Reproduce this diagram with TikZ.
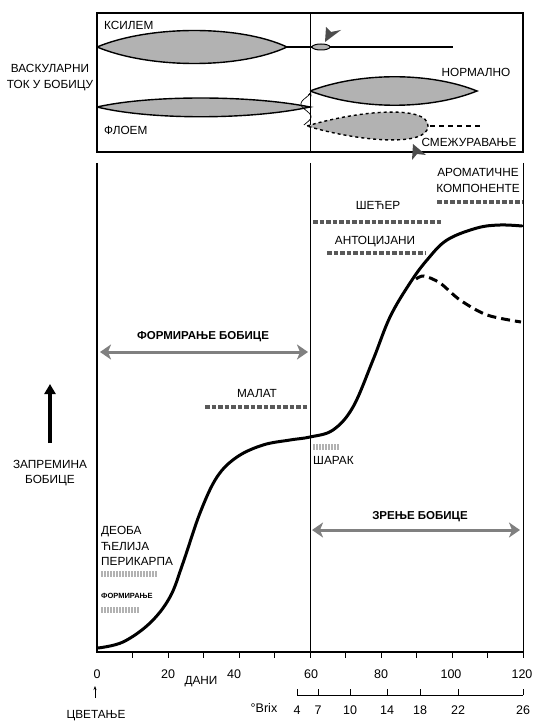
\documentclass[tikz,border=0pt]{standalone}
\usepackage{fontspec}
\setmainfont{Liberation Sans}
\usetikzlibrary{arrows.meta, positioning}
\tikzset{
>=Stealth, % default arrow tip
lbl/.style={inner sep=0pt, align=center, font=\fontsize{11.8}{15.5}\selectfont},
lblb/.style={lbl, font=\fontsize{11.5}{15.5}\selectfont\bfseries},
num/.style={inner sep=0pt, font=\fontsize{12.5}{14}\selectfont},
lens/.style={draw, line width=1.4pt, fill=black!30},
darkbar/.style={line width=4.5pt, draw=black!65, dash pattern=on 4.5pt off 2pt},
lightbar/.style={line width=6pt, draw=black!30, dash pattern=on 1.5pt off 1.5pt},
phase/.style={draw=black!50, line width=3pt,
  {Stealth[length=11pt,width=15pt,inset=3pt]}-{Stealth[length=11pt,width=15pt,inset=3pt]}},
growth/.style={line width=3pt, line cap=round},
kite/.style={fill=black!70},
}
\begin{document}
\begin{tikzpicture}[x=1pt,y=-1pt]
  \useasboundingbox (0,0) rectangle (536,722);

  % vascular flow box
  \draw[line width=1.3pt] (97,13) rectangle (523,152);
  \draw[line width=0.8pt] (310,13) -- (310,152);
  \node[lbl] (vask) at (50,77.5) {ВАСКУЛАРНИ\\ТОК У БОБИЦУ};
  \node[lbl, anchor=west] (ksilem) at (104,25) {КСИЛЕМ};
  \node[lbl, anchor=west] (floem) at (104,130) {ФЛОЕМ};
  \node[lbl] (normal) at (476,72) {НОРМАЛНО};
  \node[lbl] (smez) at (469,142) {СМЕЖУРАВАЊЕ};

  \draw[line width=1.4pt] (287,47) -- (453,47);
  \draw[lens] (97,47) .. controls (150,25) and (240,25) .. (287,47)
    .. controls (240,69) and (150,69) .. (97,47);
  \draw[lens, line width=1pt] (321,47) ellipse [x radius=9, y radius=3];
  \draw[lens] (97,107) .. controls (150,95) and (250,95) .. (310,107)
    .. controls (250,120) and (150,120) .. (97,107);
  \draw[lens] (310,91) .. controls (360,72) and (430,72) .. (477,91)
    .. controls (430,110) and (360,110) .. (310,91);
  \draw[lens, dashed] (307,126) .. controls (360,110) and (428,105) .. (428,126)
    .. controls (428,147) and (360,142) .. (307,126);
  \draw[line width=1.6pt, dash pattern=on 5pt off 4pt] (430,126) -- (483,126);
  \draw[line width=0.7pt, -{Stealth[length=4pt,width=4pt]}]
    plot[variable=\s, domain=0:33, samples=50, smooth] ({306+5*sin(-25+14*\s)}, {125-\s});
  \fill[kite] (325,42) -- (326,27) -- (331,32) -- (341,30) -- cycle;
  \fill[kite] (413,144) -- (412,160) -- (417,154) -- (426,155) -- cycle;

  % growth chart frame and axes
  \draw[line width=1.3pt] (97,163) -- (97,652) -- (523,652);
  \draw[line width=0.8pt] (310,163) -- (310,652);
  \draw[line width=0.8pt] (523,163) -- (523,652);
  \foreach \d in {1,...,12}
    \draw[line width=0.8pt] (97+35.5*\d,652) -- ++(0,6);
  \foreach \d/\x in {0/97, 20/168, 40/234, 60/311, 80/381, 100/451, 120/522}
    \node[num] (d\d) at (\x,674) {\d};
  \node[lbl] (dani) at (201,682) {ДАНИ};
  \coordinate (bloomA) at (95,698);
  \coordinate (bloomB) at (95,686);
  \draw[line width=0.7pt, -{Stealth[length=4pt,width=3pt]}] (bloomA) -- (bloomB);
  \node[lbl] (cvet) at (96,716) {ЦВЕТАЊЕ};

  \draw[line width=0.8pt] (297,695) -- (523,695);
  \foreach \b/\x in {4/297, 7/318, 10/350, 14/387, 18/420, 22/458, 26/523}{
    \draw[line width=0.8pt] (\x,695) -- ++(0,-6);
    \node[num] (b\b) at (\x,710) {\b};
  }
  \node[num] (brix) at (264,708) {°Brix};

  % berry volume
  \coordinate (volA) at (50,443);
  \coordinate (volB) at (50,384);
  \draw[line width=4pt, -{Triangle[length=10pt,width=11pt]}] (volA) -- (volB);
  \node[lbl] (zapr) at (50,473) {ЗАПРЕМИНА\\БОБИЦЕ};

  \draw[growth] plot[smooth, tension=0.6] coordinates {(98,648) (123,642) (150,623)
    (170,597) (183,563) (200,513) (217,477) (237,457) (263,445) (290,440) (310,437)
    (333,430) (353,407) (373,360) (390,317) (410,283) (427,260) (447,240) (477,228)
    (500,225) (522,226)};
  \draw[growth, line cap=butt, dash pattern=on 9pt off 5pt] plot[smooth]
    coordinates {(416,279) (424,276) (440,283) (460,300) (487,315) (521,322)};

  % phases
  \coordinate (formL) at (100,352);
  \coordinate (formR) at (308,352);
  \draw[phase] (formL) -- (formR);
  \node[lblb] (formb) at (203,337) {ФОРМИРАЊЕ БОБИЦЕ};
  \coordinate (zrL) at (312,530);
  \coordinate (zrR) at (520,530);
  \draw[phase] (zrL) -- (zrR);
  \node[lblb] (zrenje) at (420,517) {ЗРЕЊЕ БОБИЦЕ};

  % compounds
  \node[lbl] (arom) at (478,180.5) {АРОМАТИЧНЕ\\КОМПОНЕНТЕ};
  \draw[darkbar] (437,202) -- (522,202);
  \node[lbl] (secer) at (378,205) {ШЕЋЕР};
  \draw[darkbar] (313,222) -- (443,222);
  \node[lbl] (antoc) at (375,242) {АНТОЦИЈАНИ};
  \draw[darkbar] (327,253) -- (425,253);
  \node[lbl] (malat) at (257,393) {МАЛАТ};
  \draw[darkbar] (205,407) -- (308,407);
  \draw[lightbar] (313,447) -- (340,447);
  \node[lbl, anchor=west] (sarak) at (313,460) {ШАРАК};
  \node[lbl, align=left, anchor=west] (deoba) at (101,546) {ДЕОБА\\ЋЕЛИЈА\\ПЕРИКАРПА};
  \draw[lightbar] (101,574) -- (157,574);
  \node[inner sep=0pt, anchor=west, font=\fontsize{7.5}{8}\selectfont\bfseries] (formir) at (101,596) {ФОРМИРАЊЕ};
  \draw[lightbar] (101,610) -- (140,610);
\end{tikzpicture}
\end{document}
